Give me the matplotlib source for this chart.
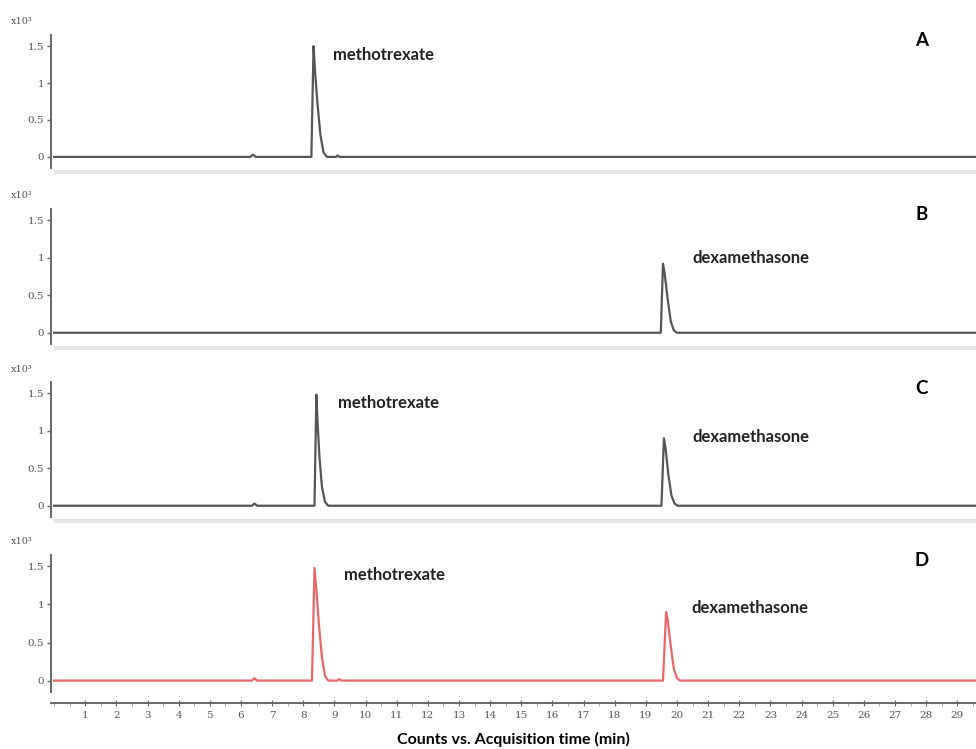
import matplotlib
matplotlib.use("Agg")
import matplotlib.pyplot as plt
from matplotlib.lines import Line2D
from matplotlib.ticker import MultipleLocator

# traces (time in min, counts in x10^3)
t_A = [0, 6.3, 6.38, 6.48, 8.26, 8.33, 8.38, 8.45, 8.55, 8.65, 8.76, 9.05, 9.1, 9.16, 29.6]
c_A = [0, 0, 0.03, 0, 0, 1.5, 1.15, 0.75, 0.3, 0.06, 0, 0, 0.02, 0, 0]

t_B = [0, 19.48, 19.55, 19.6, 19.7, 19.8, 19.9, 20.0, 29.6]
c_B = [0, 0, 0.92, 0.8, 0.45, 0.15, 0.03, 0, 0]

t_C = [0, 6.35, 6.43, 6.52, 8.36, 8.42, 8.46, 8.52, 8.6, 8.7, 8.8,
       19.5, 19.58, 19.63, 19.72, 19.82, 19.92, 20.02, 29.6]
c_C = [0, 0, 0.03, 0, 0, 1.48, 1.1, 0.65, 0.25, 0.05, 0,
       0, 0.9, 0.78, 0.42, 0.14, 0.03, 0, 0]

t_D = [0, 6.35, 6.43, 6.52, 8.28, 8.36, 8.42, 8.5, 8.6, 8.7, 8.8, 9.1, 9.16, 9.22,
       19.55, 19.65, 19.7, 19.8, 19.9, 20.0, 20.1, 29.6]
c_D = [0, 0, 0.03, 0, 0, 1.48, 1.2, 0.75, 0.3, 0.06, 0, 0, 0.02, 0,
       0, 0.9, 0.8, 0.45, 0.15, 0.03, 0, 0]

panel_names = ["A", "B", "C", "D"]
traces = [(t_A, c_A), (t_B, c_B), (t_C, c_C), (t_D, c_D)]
# (label, x, y) per panel
labels = [
    [("methotrexate", 8.95, 1.38)],
    [("dexamethasone", 20.5, 1.0)],
    [("methotrexate", 9.1, 1.37), ("dexamethasone", 20.5, 0.92)],
    [("methotrexate", 9.3, 1.39), ("dexamethasone", 20.45, 0.95)],
]
y_ticks = [0, 0.5, 1, 1.5]
y_ticklabels = ["0", "0.5", "1", "1.5"]

W, H = 976, 749
fig = plt.figure(figsize=(W / 100, H / 100), dpi=100)

# axes top/bottom in pixels
boxes = [(35, 168), (209, 344), (382, 517), (555, 692)]
left_px = 51

for i, (top, bot) in enumerate(boxes):
    ax = fig.add_axes([left_px / W, 1 - bot / H, (W - left_px) / W, (bot - top) / H])
    t, c = traces[i]
    color = "#e8676a" if i == 3 else "#555555"
    ax.plot(t, c, color=color, lw=1.6)
    ax.set_xlim(-0.1, 29.6)
    ax.set_ylim(-0.15, 1.65)
    for s in ["top", "right"]:
        ax.spines[s].set_visible(False)
    ax.spines["left"].set_color("#666666")
    ax.spines["left"].set_linewidth(1.4)
    ax.set_yticks(y_ticks)
    ax.set_yticklabels(y_ticklabels, family="DejaVu Serif", fontsize=7.5, color="#555555")
    ax.tick_params(axis="y", length=3, width=1, color="#666666", pad=2)
    if i < 3:
        ax.spines["bottom"].set_visible(False)
        ax.set_xticks([])
        # light separator band under each panel
        y = 1 - (bot + 4) / H
        fig.add_artist(Line2D([56 / W, 1], [y, y], color="#e6e6e6", lw=3))
    else:
        ax.spines["bottom"].set_position(("outward", 8))
        ax.spines["bottom"].set_color("#666666")
        ax.spines["bottom"].set_linewidth(1.4)
        ax.xaxis.set_minor_locator(MultipleLocator(0.5))
        ticks = list(range(1, 30))
        ax.set_xticks(ticks)
        ax.set_xticklabels([str(k) for k in ticks], family="DejaVu Serif",
                           fontsize=7.5, color="#555555")
        ax.tick_params(axis="x", which="major", direction="inout", length=5,
                       color="#666666", pad=3)
        ax.tick_params(axis="x", which="minor", direction="out", length=2,
                       color="#999999")
        ax.set_xlabel("Counts vs. Acquisition time (min)", family="Lato",
                      fontweight="bold", fontsize=11.5, labelpad=9)
    for txt, x, y in labels[i]:
        ax.text(x, y, txt, family="Lato", fontweight="bold", fontsize=12,
                va="center", ha="left", color="#222222")
    fig.text(922 / W, 1 - (top + 6) / H, panel_names[i], family="Lato",
             fontweight="bold", fontsize=13.5, ha="center", va="center")
    fig.text(11 / W, 1 - (top - 13) / H, "x10³", family="DejaVu Serif",
             fontsize=7, color="#555555", ha="left", va="center")

fig.savefig("out.png", dpi=100)
